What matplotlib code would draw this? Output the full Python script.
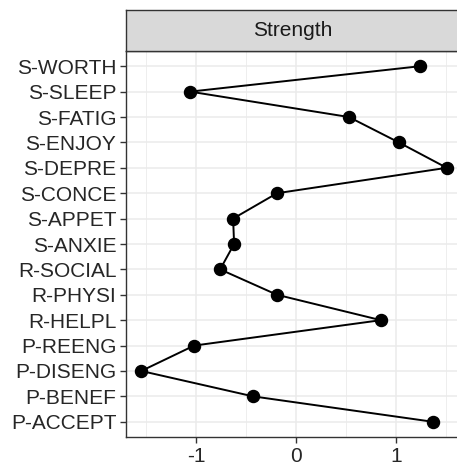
import numpy as np
import matplotlib.pyplot as plt

plt.rcParams['font.family'] = ['Liberation Sans', 'DejaVu Sans']

# nodes from top to bottom, with their strength values
nodes = ['S-WORTH', 'S-SLEEP', 'S-FATIG', 'S-ENJOY', 'S-DEPRE', 'S-CONCE',
         'S-APPET', 'S-ANXIE', 'R-SOCIAL', 'R-PHYSI', 'R-HELPL', 'P-REENG',
         'P-DISENG', 'P-BENEF', 'P-ACCEPT']
strength = [1.24, -1.06, 0.53, 1.03, 1.51, -0.19,
            -0.63, -0.62, -0.76, -0.19, 0.85, -1.02,
            -1.55, -0.43, 1.37]
x_ticks = [-1, 0, 1]
x_minor = [-1.5, -0.5, 0.5, 1.5]
strip_label = 'Strength'

W, H = 457, 467
fig = plt.figure(figsize=(W / 100, H / 100), dpi=100)

# panel geometry in pixels (panel runs a little past the right edge, like the original)
left, right, top, bottom = 126, 462, 51, 437
ax = fig.add_axes([left / W, (H - bottom) / H, (right - left) / W, (bottom - top) / H])

ypos = np.arange(len(nodes))[::-1]
ax.plot(strength, ypos, color='black', lw=1.4, zorder=3, clip_on=False)
ax.scatter(strength, ypos, s=75, color='black', zorder=4, clip_on=False)

lo, hi = min(strength), max(strength)
pad = (hi - lo) * 0.05
ax.set_xlim(lo - pad, hi + pad)
ax.set_ylim(-0.6, len(nodes) - 0.4)

ax.set_xticks(x_ticks)
ax.set_xticklabels(['-1', '0', '1'])
ax.set_xticks(x_minor, minor=True)
ax.set_yticks(ypos)
ax.set_yticklabels(nodes)

ax.grid(which='major', color='#EBEBEB', lw=1.1)
ax.grid(which='minor', axis='x', color='#EBEBEB', lw=0.6)
ax.set_axisbelow(True)

ax.tick_params(which='major', length=4.5, width=1.0, color='#333333',
               labelsize=15, labelcolor='#262626', pad=2.5)
ax.tick_params(which='minor', length=0)
for sp in ax.spines.values():
    sp.set_color('#333333')
    sp.set_linewidth(1.0)
ax.spines['right'].set_visible(False)

# facet strip
strip_top = 10
sax = fig.add_axes([left / W, (H - top) / H, (right - left) / W, (top - strip_top) / H])
sax.set_xticks([])
sax.set_yticks([])
sax.set_facecolor('#D9D9D9')
for sp in sax.spines.values():
    sp.set_color('#333333')
    sp.set_linewidth(1.0)
sax.spines['right'].set_visible(False)
sax.text((293 - left) / (right - left), 0.5, strip_label, transform=sax.transAxes,
         ha='center', va='center', fontsize=15, color='#1A1A1A')

fig.savefig('out.png', dpi=100)
